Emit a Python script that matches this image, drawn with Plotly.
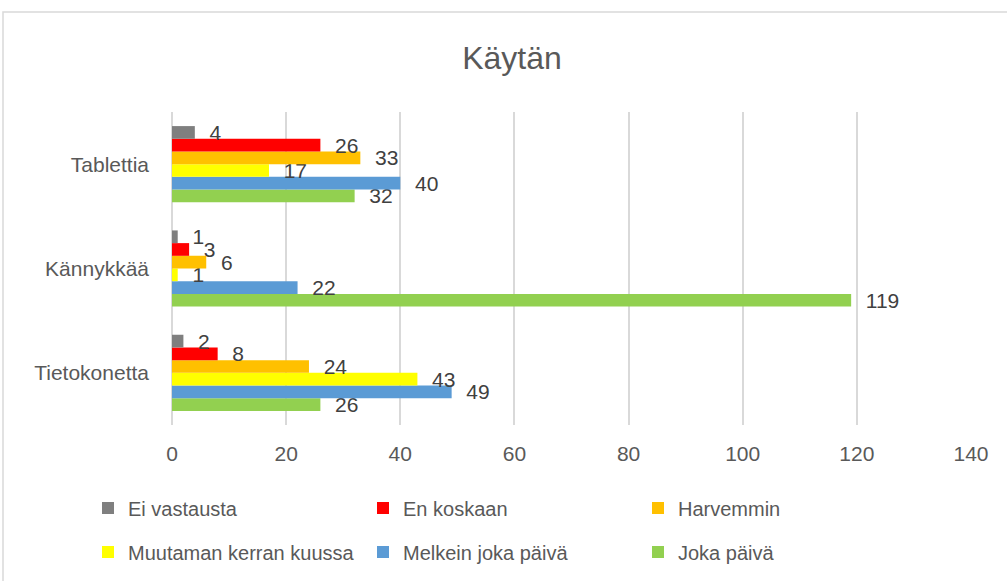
import plotly.graph_objects as go

categories = ["Tietokonetta", "Kännykkää", "Tablettia"]
series_names = ["Ei vastausta", "En koskaan", "Harvemmin",
                "Muutaman kerran kuussa", "Melkein joka päivä", "Joka päivä"]
ei_vastausta = [2, 1, 4]
en_koskaan = [8, 3, 26]
harvemmin = [24, 6, 33]
muutaman_kerran = [43, 1, 17]
melkein_joka_paiva = [49, 22, 40]
joka_paiva = [26, 119, 32]
x_ticks = [0, 20, 40, 60, 80, 100, 120, 140]

series_values = [ei_vastausta, en_koskaan, harvemmin,
                 muutaman_kerran, melkein_joka_paiva, joka_paiva]
colors = ["#7F7F7F", "#FF0000", "#FFC000", "#FFFF00", "#5B9BD5", "#92D050"]
legend_ids = ["legend", "legend", "legend", "legend2", "legend2", "legend2"]

FONT = "Liberation Sans"

fig = go.Figure()
# add in reverse so that the first series sits at the top of each group
for i in reversed(range(len(series_names))):
    fig.add_trace(go.Bar(
        y=categories, x=series_values[i], name=series_names[i],
        orientation="h", marker=dict(color=colors[i], line=dict(width=0)),
        text=series_values[i],
        texttemplate="\u00a0\u00a0%{x}",
        textposition="outside", constraintext="none", cliponaxis=False,
        textfont=dict(family=FONT, size=21, color="#404040"),
        legend=legend_ids[i], hoverinfo="x+name",
    ))

L, R, T, B = 172, 36, 112, 156
W, H = 1007, 581
pw, ph = W - L - R, H - T - B

def px_x(p):
    return (p - L) / pw

def px_y(p):
    return (H - B - p) / ph

fig.update_layout(
    width=W, height=H,
    margin=dict(l=L, r=R, t=T, b=B, autoexpand=False),
    paper_bgcolor="white", plot_bgcolor="white",
    barmode="group", bargap=0.27, bargroupgap=0,
    title=dict(text="Käytän", x=512 / W, xref="container", xanchor="center",
               y=1 - 58 / H, yref="container", yanchor="middle",
               font=dict(family=FONT, size=32, color="#595959")),
    xaxis=dict(range=[0, 140], tickvals=x_ticks, showgrid=True,
               gridcolor="#D9D9D9", gridwidth=1.5, zeroline=True,
               zerolinecolor="#D9D9D9", zerolinewidth=1.5, showline=False,
               ticks="", ticklabelstandoff=14, fixedrange=True, automargin=False,
               tickfont=dict(family=FONT, size=21, color="#595959")),
    yaxis=dict(categoryorder="array", categoryarray=categories,
               showgrid=False, zeroline=False, showline=False, ticks="",
               ticklabelstandoff=22, fixedrange=True, automargin=False,
               tickfont=dict(family=FONT, size=21, color="#595959")),
    legend=dict(orientation="h", x=px_x(88), xanchor="left",
                y=px_y(508), yanchor="middle", traceorder="reversed",
                entrywidth=230, entrywidthmode="pixels",
                font=dict(family=FONT, size=20, color="#595959"),
                bgcolor="rgba(0,0,0,0)"),
    legend2=dict(orientation="h", x=px_x(88), xanchor="left",
                 y=px_y(552), yanchor="middle", traceorder="reversed",
                 entrywidth=230, entrywidthmode="pixels",
                 font=dict(family=FONT, size=20, color="#595959"),
                 bgcolor="rgba(0,0,0,0)"),
    shapes=[dict(type="rect", xref="paper", yref="paper",
                 x0=px_x(3), x1=px_x(1012), y0=px_y(590), y1=px_y(12),
                 line=dict(color="#D9D9D9", width=1.5), fillcolor="rgba(0,0,0,0)",
                 layer="below")],
    showlegend=True,
)

fig.write_html("out.html", config={"displayModeBar": False},
               post_script="document.body.style.margin='0';document.body.style.padding='0';")
